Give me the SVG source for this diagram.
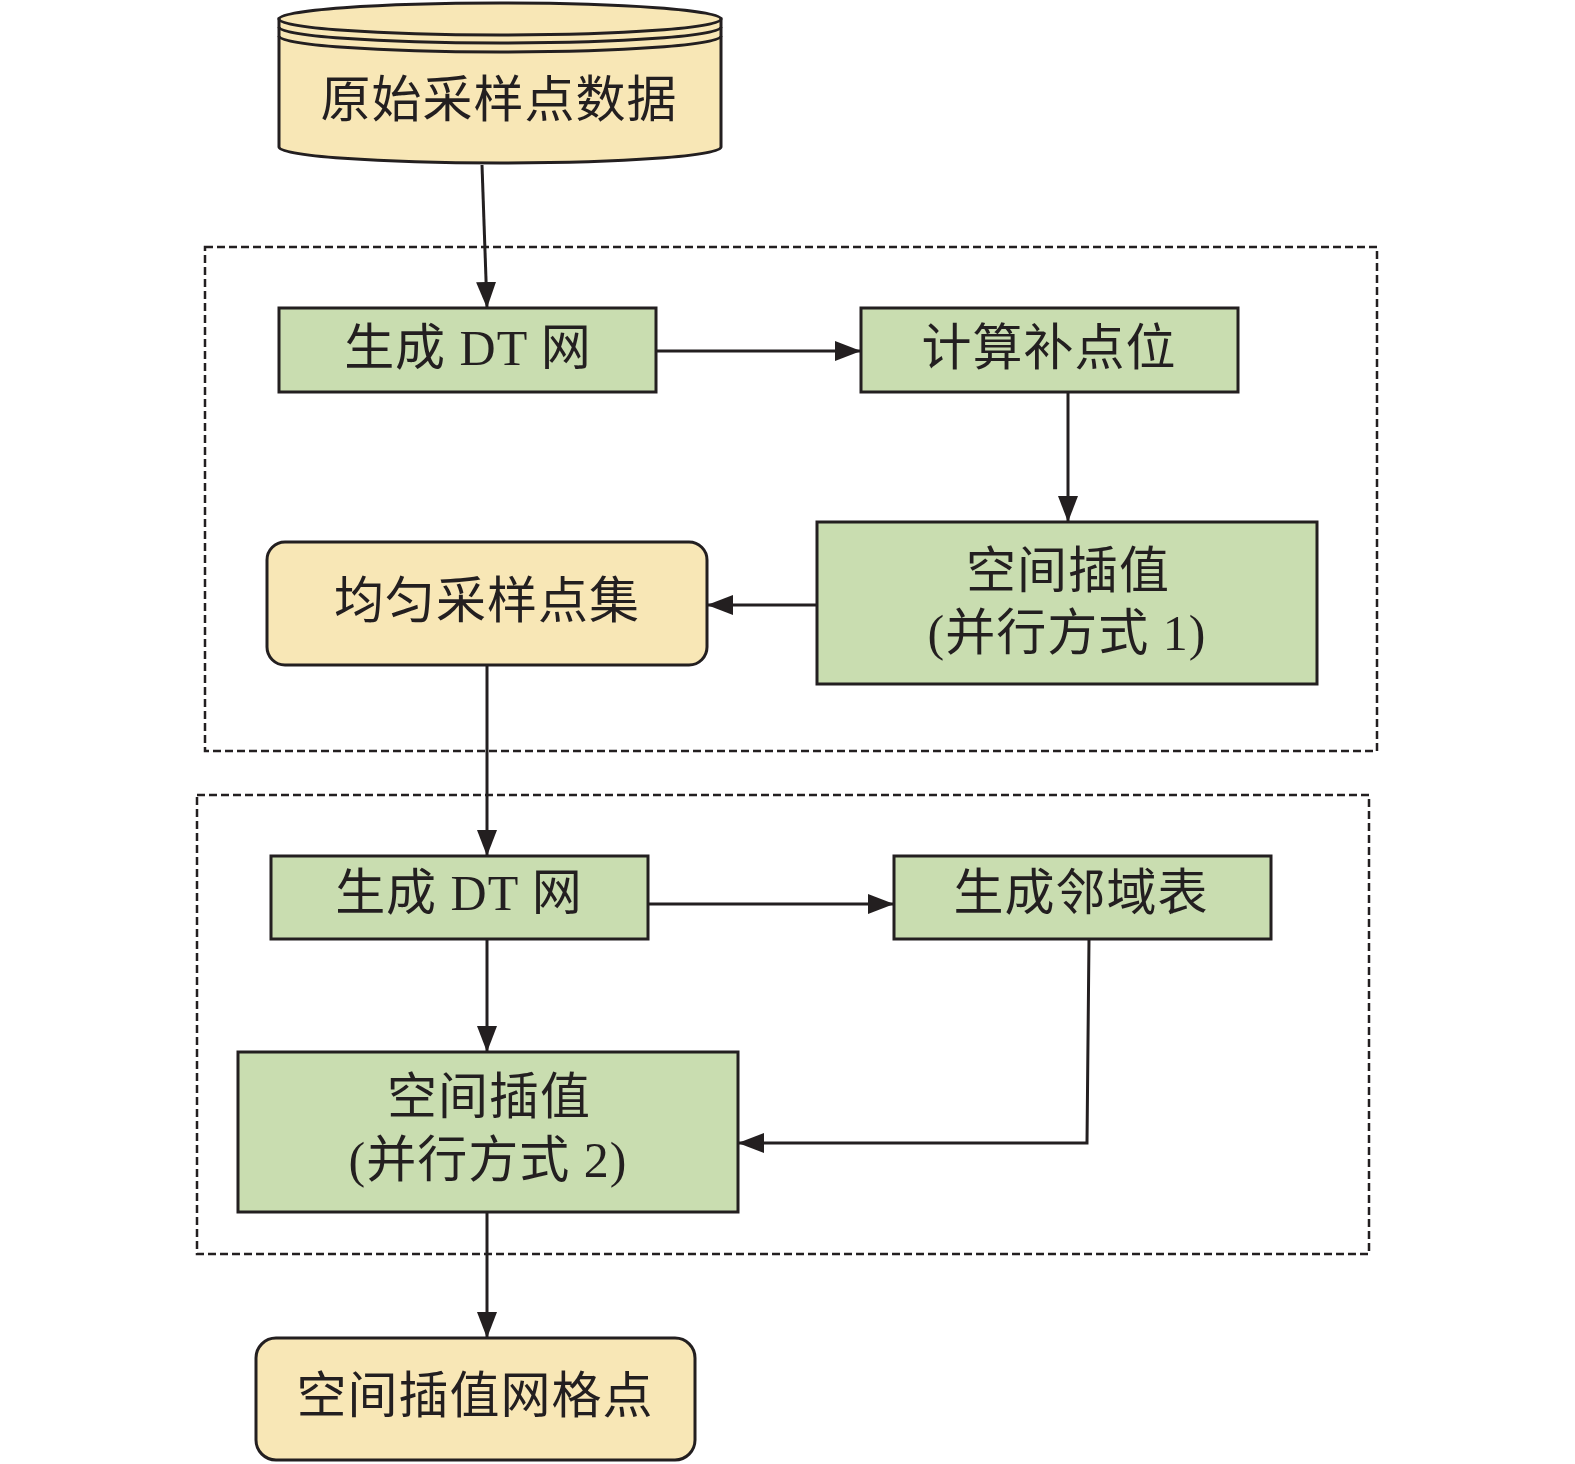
<svg xmlns="http://www.w3.org/2000/svg" width="1575" height="1464" viewBox="0 0 1575 1464">
<style>
.g{fill:#c9ddb0;stroke:#231f20;stroke-width:3}
.y{fill:#f8e7b6;stroke:#231f20;stroke-width:3}
.t{font-family:"Liberation Serif","Noto Sans CJK SC",serif;font-size:50px;fill:#231f20;text-anchor:middle;dominant-baseline:central;letter-spacing:1px}
.c{fill:none;stroke:#231f20;stroke-width:3}
.d{fill:none;stroke:#231f20;stroke-width:2.5;stroke-dasharray:8 4}
</style>
<defs>
<marker id="ah" viewBox="0 0 26 20" refX="26" refY="10" markerWidth="26" markerHeight="20" markerUnits="userSpaceOnUse" orient="auto">
<path d="M0,0 L26,10 L0,20 Z" fill="#231f20"/>
</marker>
</defs>
<rect width="1575" height="1464" fill="#ffffff"/>
<g id="groups">
<rect class="d" x="205" y="247" width="1172" height="504"/>
<rect class="d" x="197" y="795" width="1172" height="459"/>
</g>
<g id="connectors">
<path class="c" d="M482,165 L487,308" marker-end="url(#ah)"/>
<path class="c" d="M656,351 L861,351" marker-end="url(#ah)"/>
<path class="c" d="M1068,392 L1068,522" marker-end="url(#ah)"/>
<path class="c" d="M817,605 L707,605" marker-end="url(#ah)"/>
<path class="c" d="M487,665 L487,856" marker-end="url(#ah)"/>
<path class="c" d="M648,904 L894,904" marker-end="url(#ah)"/>
<path class="c" d="M487,939 L487,1052" marker-end="url(#ah)"/>
<path class="c" d="M1089,939 L1087,1143 L738,1143" marker-end="url(#ah)"/>
<path class="c" d="M487,1212 L487,1338" marker-end="url(#ah)"/>
</g>
<g id="n-source">
<path class="y" d="M279,19 L279,147 A221,16 0 0 0 721,147 L721,19 Z"/>
<ellipse class="y" cx="500" cy="19" rx="221" ry="16"/>
<path class="c" d="M279,27 A221,16 0 0 0 721,27"/>
<path class="c" d="M279,36 A221,16 0 0 0 721,36"/>
<text class="t" x="499" y="100">原始采样点数据</text>
</g>
<g id="n-dt1">
<rect class="g" x="279" y="308" width="377" height="84"/>
<text class="t" x="468" y="348">生成 DT 网</text>
</g>
<g id="n-calc">
<rect class="g" x="861" y="308" width="377" height="84"/>
<text class="t" x="1049" y="348">计算补点位</text>
</g>
<g id="n-interp1">
<rect class="g" x="817" y="522" width="500" height="162"/>
<text class="t" x="1068" y="571">空间插值</text>
<text class="t" x="1067" y="633">(并行方式 1)</text>
</g>
<g id="n-uniform">
<rect class="y" x="267" y="542" width="440" height="123" rx="18"/>
<text class="t" x="487" y="601">均匀采样点集</text>
</g>
<g id="n-dt2">
<rect class="g" x="271" y="856" width="377" height="83"/>
<text class="t" x="459" y="893">生成 DT 网</text>
</g>
<g id="n-neigh">
<rect class="g" x="894" y="856" width="377" height="83"/>
<text class="t" x="1081" y="893">生成邻域表</text>
</g>
<g id="n-interp2">
<rect class="g" x="238" y="1052" width="500" height="160"/>
<text class="t" x="489" y="1097">空间插值</text>
<text class="t" x="488" y="1160">(并行方式 2)</text>
</g>
<g id="n-grid">
<rect class="y" x="256" y="1338" width="439" height="122" rx="20"/>
<text class="t" x="475" y="1396">空间插值网格点</text>
</g>
</svg>
